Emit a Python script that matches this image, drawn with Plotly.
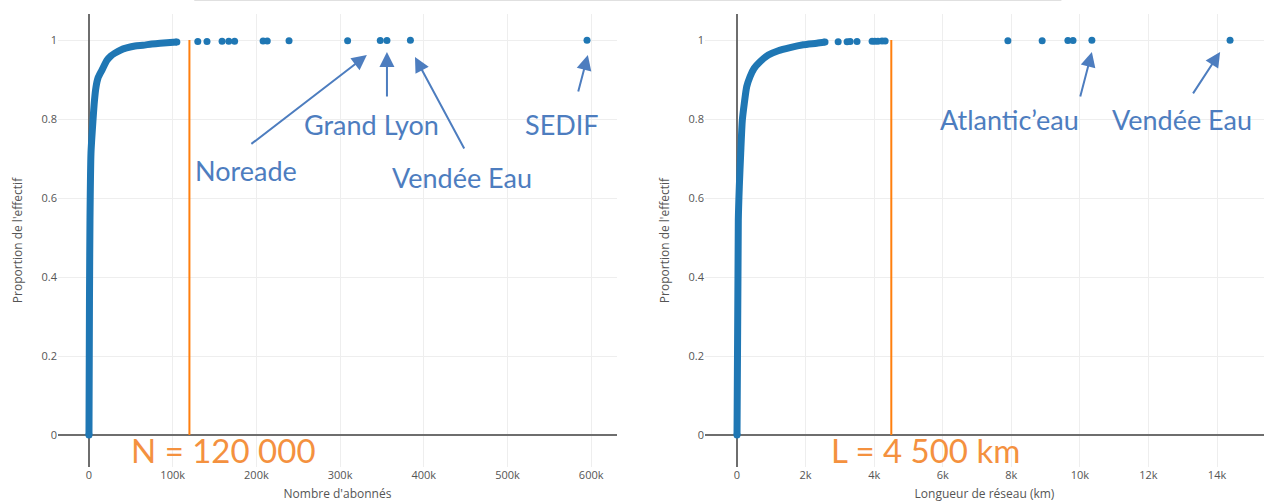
import plotly.graph_objects as go

# ---- Data ----
# Left: ECDF of number of subscribers
abonnes_curve = [0, 600, 1200, 2400, 4800, 6600, 8400, 10800, 15500, 21500, 26300, 31000,
                 38000, 45000, 55000, 64500, 75000, 85000, 105000]
prop_curve_ab = [0.0, 0.34, 0.544, 0.714, 0.797, 0.848, 0.881, 0.904, 0.924, 0.949, 0.96, 0.967,
                 0.975, 0.98, 0.985, 0.987, 0.99, 0.992, 0.995]
abonnes_out = [130000, 141000, 159000, 167000, 174000, 208000, 213000, 239000, 309000, 348000, 356000, 384000, 595000]
prop_out_ab = [0.9961, 0.9964, 0.9967, 0.997, 0.9973, 0.9976, 0.9979, 0.9982, 0.9985, 0.9988, 0.9991, 0.9994, 0.9997]
seuil_abonnes = 120000

# Right: ECDF of network length (km)
longueur_curve = [0, 38, 67, 108, 155, 213, 283, 379, 496, 671, 913, 1204, 1546, 1934, 2325, 2567]
prop_curve_lg = [0.0, 0.544, 0.629, 0.714, 0.797, 0.84, 0.882, 0.907, 0.928, 0.945, 0.962, 0.973,
                 0.981, 0.988, 0.992, 0.995]
longueur_out = [2950, 3210, 3300, 3500, 3940, 4020, 4110, 4230, 4320, 7900, 8900, 9650, 9800, 10350, 14380]
prop_out_lg = [0.9955, 0.9958, 0.9961, 0.9964, 0.9967, 0.997, 0.9973, 0.9976, 0.9979, 0.9982, 0.9985, 0.9988, 0.9991, 0.9994, 0.9997]
seuil_longueur = 4500

# Annotations: (label, arrow tip x, tip y, ax, ay, text x, text y)
annot_left = [
    ("Noreade", 332000, 0.962, -117, 90, 188000, 0.670),
    ("Grand Lyon", 356000, 0.970, 0, 46, 337000, 0.785),
    ("Vendée Eau", 389500, 0.957, 50, 93, 446000, 0.652),
    ("SEDIF", 596000, 0.962, -10, 38, 565000, 0.785),
]
annot_right = [
    ("Atlantic’eau", 10350, 0.970, -12, 46, 7950, 0.80),
    ("Vendée Eau", 14090, 0.970, -28, 43, 12980, 0.80),
]
seuil_labels = [("N = 120 000", 161000, "x", "y"), ("L = 4 500 km", 5510, "x2", "y2")]

BLUE = "#1f77b4"
ORANGE = "#ff7f0e"
LABEL_BLUE = "#4D7DBF"
LABEL_ORANGE = "#F4913F"
TXT_FONT = "Lato"

fig = go.Figure()

def add_panel(xs, ys, xo, yo, seuil, xa, ya):
    fig.add_trace(go.Scatter(x=xs, y=ys, mode="lines", xaxis=xa, yaxis=ya,
                             line=dict(color=BLUE, width=7, shape="spline", smoothing=0.6),
                             showlegend=False, hoverinfo="skip"))
    fig.add_trace(go.Scatter(x=[xs[0], xs[-1]], y=[ys[0], ys[-1]], mode="markers", xaxis=xa, yaxis=ya,
                             marker=dict(color=BLUE, size=7), showlegend=False, hoverinfo="skip"))
    fig.add_trace(go.Scatter(x=xo, y=yo, mode="markers", xaxis=xa, yaxis=ya,
                             marker=dict(color=BLUE, size=7), showlegend=False))
    fig.add_trace(go.Scatter(x=[seuil, seuil], y=[0, 1], mode="lines", xaxis=xa, yaxis=ya,
                             line=dict(color=ORANGE, width=2), showlegend=False))

add_panel(abonnes_curve, prop_curve_ab, abonnes_out, prop_out_ab, seuil_abonnes, "x", "y")
add_panel(longueur_curve, prop_curve_lg, longueur_out, prop_out_lg, seuil_longueur, "x2", "y2")

annotations = []
for items, xr, yr in [(annot_left, "x", "y"), (annot_right, "x2", "y2")]:
    for lab, tx, ty, ax, ay, lx, ly in items:
        annotations.append(dict(x=tx, y=ty, xref=xr, yref=yr, text="", showarrow=True,
                                ax=ax, ay=ay, axref="pixel", ayref="pixel",
                                arrowhead=2, arrowsize=1.5, arrowwidth=2, arrowcolor=LABEL_BLUE))
        annotations.append(dict(x=lx, y=ly, xref=xr, yref=yr, text=lab, showarrow=False,
                                font=dict(family=TXT_FONT, size=27, color=LABEL_BLUE)))

for lab, lx, xr, yr in seuil_labels:
    annotations.append(dict(x=lx, y=-0.037, xref=xr, yref=yr, text=lab, showarrow=False,
                            font=dict(family=TXT_FONT, size=33, color=LABEL_ORANGE)))

axis_common = dict(showgrid=True, gridcolor="#eeeeee", zeroline=True, zerolinecolor="#6e6e6e",
                   zerolinewidth=1.5, showline=False, ticks="",
                   tickfont=dict(family="Open Sans", size=11, color="#555555"),
                   title_font=dict(family="Open Sans", size=12, color="#555555"))

fig.update_layout(
    width=1264, height=502,
    margin=dict(l=58, r=0, t=14, b=35),
    paper_bgcolor="white", plot_bgcolor="white",
    xaxis=dict(domain=[0, 0.4635], range=[-37000, 630800], dtick=100000,
               title=dict(text="Nombre d'abonnés", standoff=9), anchor="y", **axis_common),
    yaxis=dict(domain=[0, 1], range=[-0.081, 1.066], dtick=0.2,
               title=dict(text="Proportion de l'effectif", standoff=16), anchor="x", **axis_common),
    xaxis2=dict(domain=[0.5365, 1], range=[-933, 15370], dtick=2000,
                title=dict(text="Longueur de réseau (km)", standoff=9), anchor="y2", **axis_common),
    yaxis2=dict(domain=[0, 1], range=[-0.081, 1.066], dtick=0.2,
                title=dict(text="Proportion de l'effectif", standoff=16), anchor="x2", **axis_common),
    annotations=annotations,
    shapes=[dict(type="line", xref="paper", yref="paper", x0=0.113, x1=0.832, y0=1.03, y1=1.03,
                 line=dict(color="#dddddd", width=1))],
)

fig.write_html("out.html", config={"displayModeBar": False},
               post_script="document.body.style.margin='0';")
